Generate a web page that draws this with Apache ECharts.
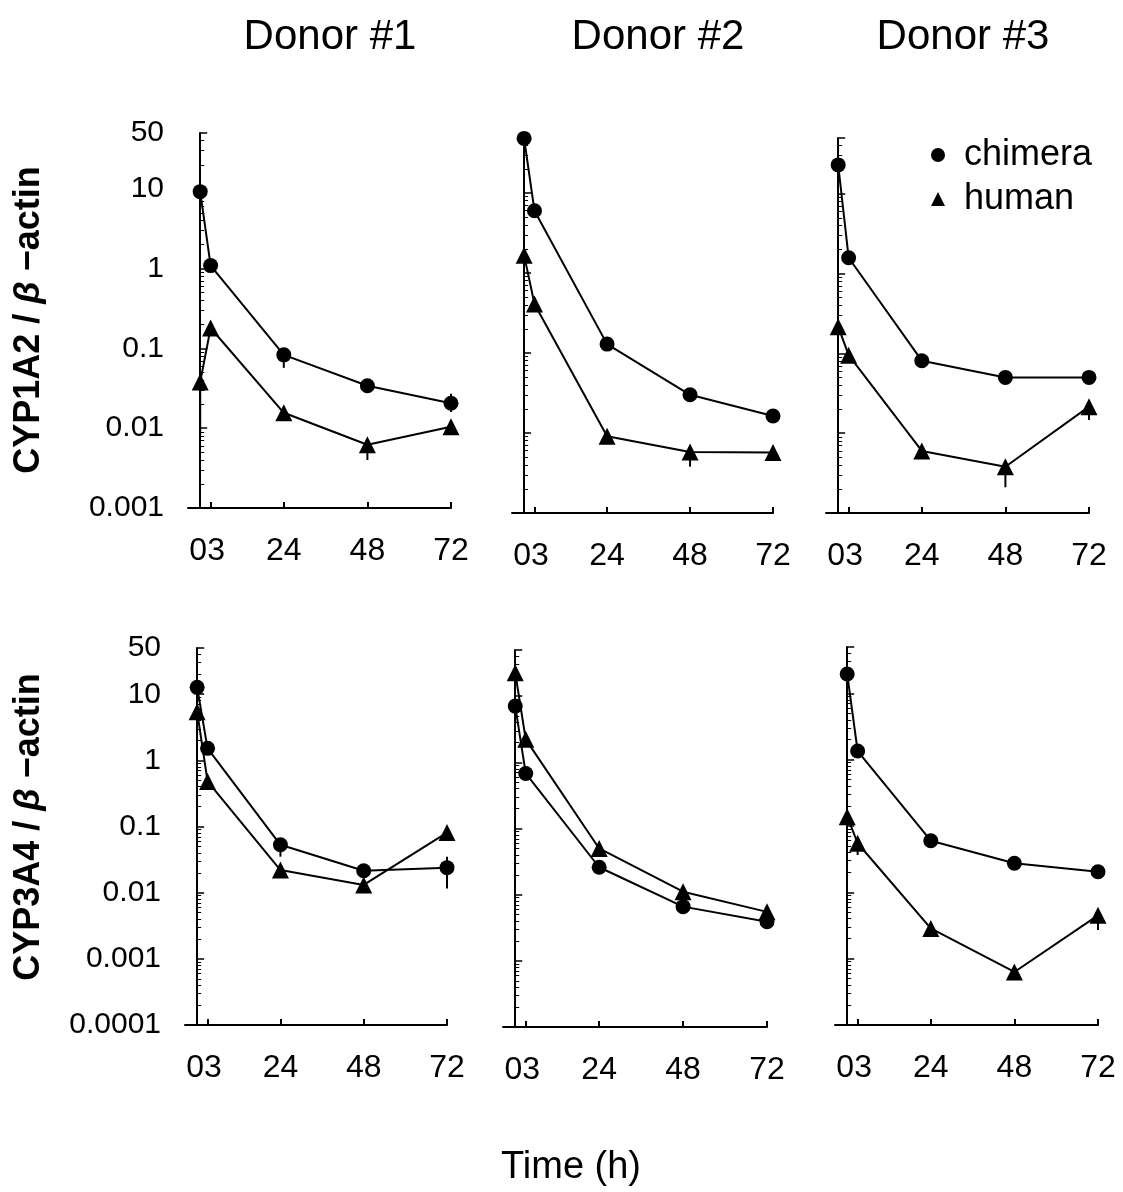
<!DOCTYPE html>
<html>
<head>
<meta charset="utf-8">
<script src="https://cdn.jsdelivr.net/npm/echarts@6/dist/echarts.min.js"></script>
<style>
  html, body { margin: 0; padding: 0; background: #fff; }
  #chart { width: 1123px; height: 1192px; }
</style>
</head>
<body>
<div id="chart"></div>
<script>
// sampling times (h)
const hours = [0, 3, 24, 48, 72]
const donors = ['Donor #1', 'Donor #2', 'Donor #3']

// CYP1A2 / beta-actin, one row per donor
const cyp1a2Chimera = [
  [9.2, 1.09, 0.083, 0.034, 0.0205],
  [48, 6.0, 0.129, 0.030, 0.0163],
  [23, 1.58, 0.081, 0.050, 0.050]
]
const cyp1a2Human = [
  [0.038, 0.18, 0.0156, 0.0062, 0.0104],
  [1.67, 0.41, 0.0091, 0.0058, 0.0057],
  [0.216, 0.095, 0.0060, 0.0038, 0.0215]
]

// CYP3A4 / beta-actin
const cyp3a4Chimera = [
  [12.7, 1.52, 0.053, 0.0215, 0.0239],
  [7.1, 0.68, 0.026, 0.0066, 0.0039],
  [19.6, 1.35, 0.060, 0.0274, 0.0204]
]
const cyp3a4Human = [
  [5.45, 0.48, 0.022, 0.0131, 0.081],
  [22.7, 2.23, 0.050, 0.0111, 0.0055],
  [0.138, 0.055, 0.00286, 0.00063, 0.0045]
]

// visible error bars per panel: [hour, low, high]
const errorBars = [
  [[0, 0.0082, 0.038], [24, 0.057, 0.083], [48, 0.004, 0.0062], [72, 0.016, 0.027]],
  [[48, 0.0038, 0.0058]],
  [[48, 0.0021, 0.0038], [72, 0.0146, 0.0215]],
  [[24, 0.035, 0.053], [72, 0.0116, 0.035]],
  [],
  [[3, 0.0365, 0.055], [72, 0.0027, 0.0045]]
]

const xTicks = [0, 3, 24, 48, 72]
const xLabelValues = [2, 24, 48, 72]
const xLabelText = ['03', '24', '48', '72']

const FONT = '"Liberation Sans", Arial, sans-serif'

const panelGrids = [
  { left: 188, top: 133, width: 263, height: 375 },
  { left: 512, top: 137, width: 261, height: 376 },
  { left: 826, top: 138, width: 263, height: 375 },
  { left: 185, top: 648, width: 262, height: 377 },
  { left: 503, top: 650, width: 264, height: 377 },
  { left: 835, top: 647, width: 263, height: 378 }
]

const grid = panelGrids.map(g => ({ ...g, containLabel: false }))
const xAxis = []
const yAxis = []
const series = []

panelGrids.forEach((g, i) => {
  const row = i < 3 ? 0 : 1
  const col = i % 3
  xAxis.push({
    type: 'value',
    gridIndex: i,
    min: -3.5,
    max: 72,
    axisLine: { lineStyle: { color: '#000', width: 2 } },
    axisTick: { inside: true, length: 6, customValues: xTicks, lineStyle: { color: '#000', width: 2 } },
    splitLine: { show: false },
    axisLabel: {
      customValues: xLabelValues,
      formatter: v => xLabelText[xLabelValues.indexOf(v)] || '',
      margin: 27,
      fontSize: 32,
      fontFamily: FONT,
      color: '#000'
    }
  })
  yAxis.push({
    type: 'log',
    logBase: 10,
    gridIndex: i,
    min: row === 0 ? 0.001 : 0.0001,
    max: 50,
    interval: 1,
    axisLine: { lineStyle: { color: '#000', width: 2 } },
    axisTick: { inside: true, length: 7, lineStyle: { color: '#000', width: 1.5 } },
    minorTick: { show: true, splitNumber: 9, length: 4, lineStyle: { color: '#000', width: 1 } },
    splitLine: { show: false },
    axisLabel: {
      show: col === 0,
      formatter: v => String(+Number(v).toPrecision(3)),
      margin: 24,
      fontSize: 30,
      fontFamily: FONT,
      color: '#000',
      showMinLabel: true,
      showMaxLabel: true
    }
  })

  const chim = row === 0 ? cyp1a2Chimera[col] : cyp3a4Chimera[col]
  const hum = row === 0 ? cyp1a2Human[col] : cyp3a4Human[col]

  series.push({
    type: 'custom',
    xAxisIndex: i,
    yAxisIndex: i,
    silent: true,
    encode: { x: 0, y: [1, 2] },
    data: errorBars[i],
    renderItem: (params, api) => {
      const p1 = api.coord([api.value(0), api.value(1)])
      const p2 = api.coord([api.value(0), api.value(2)])
      return {
        type: 'line',
        shape: { x1: p1[0], y1: p1[1], x2: p2[0], y2: p2[1] },
        style: { stroke: '#000', lineWidth: 2 }
      }
    }
  })
  series.push({
    name: 'chimera',
    type: 'line',
    xAxisIndex: i,
    yAxisIndex: i,
    symbol: 'circle',
    symbolSize: 15,
    itemStyle: { color: '#000' },
    lineStyle: { color: '#000', width: 2 },
    data: hours.map((h, k) => [h, chim[k]])
  })
  series.push({
    name: 'human',
    type: 'line',
    xAxisIndex: i,
    yAxisIndex: i,
    symbol: 'triangle',
    symbolSize: 17,
    itemStyle: { color: '#000' },
    lineStyle: { color: '#000', width: 2 },
    data: hours.map((h, k) => [h, hum[k]])
  })
})

const titleX = [330, 658, 963]
const graphic = donors.map((d, k) => ({
  type: 'text',
  x: titleX[k],
  y: 37,
  style: { text: d, font: '42px ' + FONT, fill: '#000', textAlign: 'center', textVerticalAlign: 'middle' }
}))

const yNames = [['CYP1A2', 320], ['CYP3A4', 827]]
yNames.forEach(([gene, cy]) => {
  graphic.push({
    type: 'text',
    x: 29,
    y: cy,
    rotation: Math.PI / 2,
    style: {
      text: '{b|' + gene + ' / }{i|β}{b| −actin}',
      textAlign: 'center',
      textVerticalAlign: 'middle',
      fill: '#000',
      rich: {
        b: { fontSize: 36, fontWeight: 'bold', fontFamily: FONT, fill: '#000' },
        i: { fontSize: 36, fontWeight: 'bold', fontStyle: 'italic', fontFamily: FONT, fill: '#000' }
      }
    }
  })
})

graphic.push({
  type: 'text',
  x: 571,
  y: 1168,
  style: { text: 'Time (h)', font: '38px ' + FONT, fill: '#000', textAlign: 'center', textVerticalAlign: 'middle' }
})

const chart = echarts.init(document.getElementById('chart'))
chart.setOption({
  backgroundColor: '#fff',
  animation: false,
  textStyle: { fontFamily: FONT },
  legend: {
    orient: 'vertical',
    left: 926,
    top: 132,
    itemGap: 8,
    itemWidth: 14,
    itemHeight: 14,
    textStyle: { fontSize: 36, color: '#000', fontFamily: FONT, padding: [0, 0, 0, 14] },
    data: [
      { name: 'chimera', icon: 'circle' },
      { name: 'human', icon: 'triangle' }
    ]
  },
  grid,
  xAxis,
  yAxis,
  series,
  graphic
})
</script>
</body>
</html>
